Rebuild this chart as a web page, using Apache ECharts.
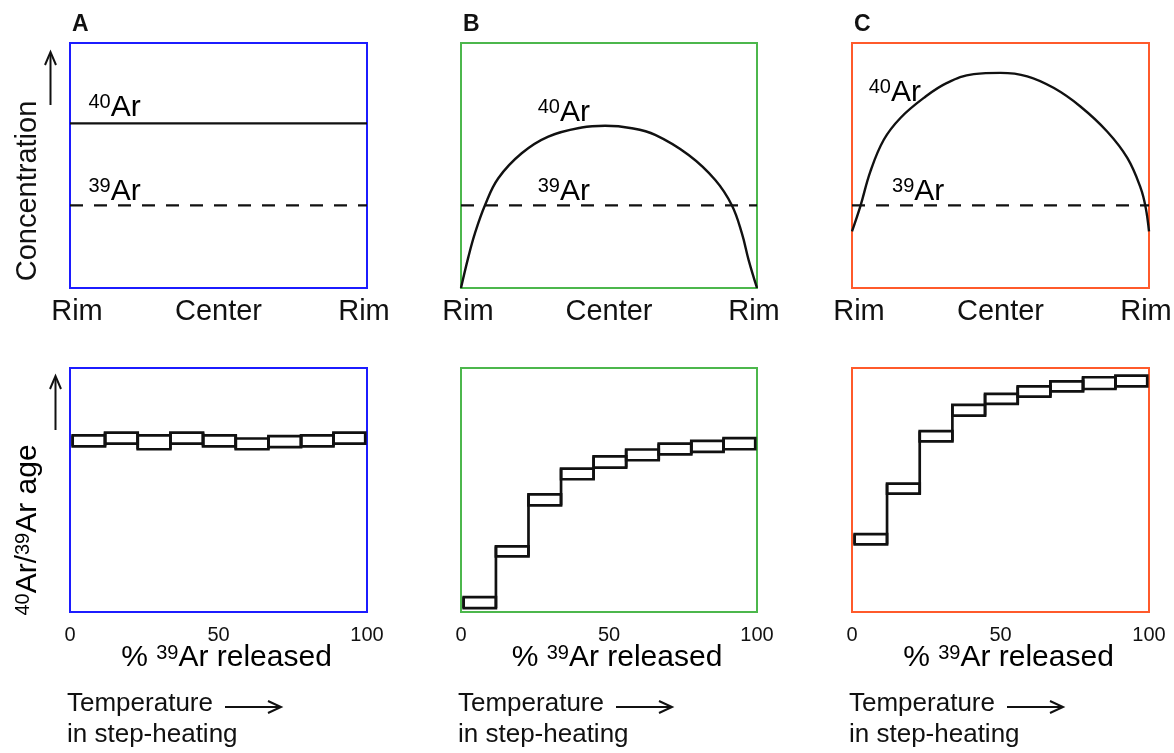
<!DOCTYPE html>
<html>
<head>
<meta charset="utf-8">
<script src="https://cdn.jsdelivr.net/npm/echarts@6/dist/echarts.min.js"></script>
<style>
  html, body { margin: 0; padding: 0; background: #ffffff; }
  #chart { width: 1174px; height: 753px; }
</style>
</head>
<body>
<div id="chart"></div>
<script>
// ---------- data ----------
// Concentration profiles across a grain (x: 0 = rim, 50 = center, 100 = rim; y: relative concentration)
const profileTicks = ['Rim', 'Center', 'Rim'];
const ar39Level = 33.7;
const ar40LevelA = 67.2;

const ar40CurveBx = [0, 2.5, 4.7, 8.1, 12.6, 20.5, 29.5, 40.8, 48.7, 57.7, 65.6, 76.9, 85.9, 91.5, 94.9, 97.2, 100];
const ar40CurveBy = [0, 12.7, 22.3, 33.8, 44.8, 55.0, 61.8, 65.5, 66.2, 65.2, 62.5, 54.3, 44.1, 33.8, 22.3, 11.3, 0];

const ar40CurveCx = [0, 2.8, 6.2, 10.7, 16.3, 24.2, 32.0, 41.0, 50.0, 59.0, 68.0, 76.9, 85.9, 92.7, 97.2, 98.9, 100];
const ar40CurveCy = [23.1, 33.3, 47.6, 60.5, 69.4, 77.6, 83.7, 87.3, 87.8, 86.4, 81.6, 74.1, 63.9, 53.1, 40.8, 32.7, 23.1];

// Step-heating age spectra (x: cumulative % 39Ar released, y: relative age, box = age +/- error)
const releasedTicks = ['0', '50', '100'];
const stepEdges = [0.9, 11.8, 22.8, 33.8, 44.8, 55.8, 66.8, 77.8, 88.7, 99.4];

const ageHiA = [72.4, 73.5, 72.4, 73.5, 72.4, 71.1, 72.1, 72.4, 73.5];
const ageLoA = [67.9, 69.0, 66.7, 69.0, 67.9, 66.7, 67.6, 67.9, 69.0];

const ageHiB = [6.1, 26.9, 48.2, 58.8, 63.8, 66.6, 69.0, 70.1, 71.3];
const ageLoB = [1.6, 22.8, 43.7, 54.4, 59.2, 62.2, 64.6, 65.6, 66.7];

const ageHiC = [31.9, 52.6, 74.1, 84.9, 89.4, 92.5, 94.5, 96.2, 96.9];
const ageLoC = [27.7, 48.5, 69.9, 80.5, 85.3, 88.3, 90.4, 91.4, 92.5];

// ---------- layout & style ----------
const FONT = '"Liberation Sans", Arial, Helvetica, sans-serif';
const INK = '#111111';
const panelColors = ['#1c1cff', '#4cb74c', '#ff5a2b'];
const panelLetters = ['A', 'B', 'C'];
const colLeft = [70, 461, 852];
const colWidth = [297, 296, 297];
const topRow = { top: 43, height: 245 };
const botRow = { top: 368, height: 244 };

const zip = (xs, ys) => xs.map((x, i) => [x, ys[i]]);
// each step: [x0, x1, lo, hi, previous lo, previous hi]
const steps = (lo, hi) => lo.map((v, i) => [
  stepEdges[i], stepEdges[i + 1], v, hi[i],
  i > 0 ? lo[i - 1] : v, i > 0 ? hi[i - 1] : hi[i]
]);

const grids = [];
const xAxes = [];
const yAxes = [];
[topRow, botRow].forEach(row => {
  for (let c = 0; c < 3; c++) {
    grids.push({
      left: colLeft[c], width: colWidth[c], top: row.top, height: row.height,
      outerBoundsMode: 'none', containLabel: false,
      show: true, borderColor: panelColors[c], borderWidth: 2, backgroundColor: 'transparent'
    });
  }
});

// rim labels sit slightly inward from the box corners
const rimText = { fontFamily: FONT, fontSize: 29, lineHeight: 29, color: INK };
const profileRich = {
  l: Object.assign({ padding: [0, 0, 0, 14] }, rimText),
  c: Object.assign({}, rimText),
  r: Object.assign({ padding: [0, 6, 0, 0] }, rimText)
};
const profileKeys = ['l', 'c', 'r'];

for (let g = 0; g < 6; g++) {
  const isTop = g < 3;
  xAxes.push({
    gridIndex: g, type: 'value', min: 0, max: 100, interval: 50,
    axisLine: { show: false }, axisTick: { show: false }, splitLine: { show: false },
    axisLabel: isTop ? {
      formatter: v => {
        const i = Math.round(v / 50);
        return '{' + profileKeys[i] + '|' + profileTicks[i] + '}';
      },
      rich: profileRich,
      fontFamily: FONT, fontSize: 29, color: INK, margin: 9, lineHeight: 29
    } : {
      formatter: v => releasedTicks[Math.round(v / 50)],
      fontFamily: FONT, fontSize: 20, color: INK, margin: 13, lineHeight: 20
    }
  });
  yAxes.push({
    gridIndex: g, type: 'value', min: 0, max: 100,
    axisLine: { show: false }, axisTick: { show: false },
    splitLine: { show: false }, axisLabel: { show: false }
  });
}

const solid = { color: INK, width: 2.4 };
const dashed = { color: INK, width: 2.2, type: [13, 11] };

function lineSeries(g, data, style, smooth) {
  return {
    type: 'line', xAxisIndex: g, yAxisIndex: g, data: data,
    showSymbol: false, symbol: 'none', smooth: smooth || false,
    lineStyle: style, silent: true, animation: false, z: 3
  };
}

// one heating step: the age box plus the riser joining it to the previous step
function renderStep(params, api) {
  const x0 = api.value(0), x1 = api.value(1);
  const lo = api.value(2), hi = api.value(3);
  const pLo = api.value(4), pHi = api.value(5);
  const a = api.coord([x0, hi]);
  const b = api.coord([x1, lo]);
  const r0 = api.coord([x0, Math.min(lo, pLo)]);
  const r1 = api.coord([x0, Math.max(hi, pHi)]);
  return {
    type: 'group',
    children: [
      { type: 'rect', shape: { x: a[0], y: a[1], width: b[0] - a[0], height: b[1] - a[1] },
        style: { fill: 'transparent', stroke: INK, lineWidth: 2.7 } },
      { type: 'line', shape: { x1: r0[0], y1: r0[1], x2: r1[0], y2: r1[1] },
        style: { stroke: INK, lineWidth: 2.7, fill: null } }
    ]
  };
}
function stepSeries(g, data) {
  return {
    type: 'custom', xAxisIndex: g, yAxisIndex: g, data: data,
    renderItem: renderStep, encode: { x: [0, 1], y: [2, 3] },
    silent: true, animation: false, z: 3
  };
}

const series = [
  lineSeries(0, [[0, ar40LevelA], [100, ar40LevelA]], solid),
  lineSeries(0, [[0, ar39Level], [100, ar39Level]], dashed),
  lineSeries(1, zip(ar40CurveBx, ar40CurveBy), solid, 0.4),
  lineSeries(1, [[0, ar39Level], [100, ar39Level]], dashed),
  lineSeries(2, zip(ar40CurveCx, ar40CurveCy), solid, 0.4),
  lineSeries(2, [[0, ar39Level], [100, ar39Level]], dashed),
  stepSeries(3, steps(ageLoA, ageHiA)),
  stepSeries(4, steps(ageLoB, ageHiB)),
  stepSeries(5, steps(ageLoC, ageHiC))
];

const chart = echarts.init(document.getElementById('chart'), null, { renderer: 'canvas' });
chart.setOption({
  backgroundColor: '#ffffff',
  animation: false,
  grid: grids, xAxis: xAxes, yAxis: yAxes, series: series
});

// ---------- annotations ----------
const isoRich = {
  m: { fontFamily: FONT, fontSize: 30, lineHeight: 30, color: INK },
  s: { fontFamily: FONT, fontSize: 20, lineHeight: 18, color: INK, verticalAlign: 'top' }
};
// isotope labels: [gridIndex, x, y (baseline), text]
const isoLabels = [
  [0, 6.2, 69.3, '{s|40}{m|Ar}'],
  [0, 6.2, 35.2, '{s|39}{m|Ar}'],
  [1, 25.9, 67.2, '{s|40}{m|Ar}'],
  [1, 25.9, 35.2, '{s|39}{m|Ar}'],
  [2, 5.6, 75.4, '{s|40}{m|Ar}'],
  [2, 13.5, 35.2, '{s|39}{m|Ar}']
];

function arrow(points, head) {
  return [
    { type: 'polyline', shape: { points: points }, style: { stroke: INK, lineWidth: 2, fill: null }, silent: true },
    { type: 'polyline', shape: { points: head }, style: { stroke: INK, lineWidth: 2, fill: null }, silent: true }
  ];
}

const graphics = [];
isoLabels.forEach(([g, x, y, txt]) => {
  const p = chart.convertToPixel({ gridIndex: g }, [x, y]);
  graphics.push({
    type: 'text', x: p[0], y: p[1] + 4.6, silent: true,
    style: { text: txt, rich: isoRich, align: 'left', verticalAlign: 'bottom' }
  });
});

for (let c = 0; c < 3; c++) {
  const L = colLeft[c];
  const W = colWidth[c];
  // panel letter
  graphics.push({
    type: 'text', x: L + 2, y: 25, silent: true,
    style: { text: panelLetters[c], fontFamily: FONT, fontSize: 23, fontWeight: 'bold', fill: INK, verticalAlign: 'middle' }
  });
  // x-axis title of the age spectrum
  graphics.push({
    type: 'text', x: L + W / 2 + 8, y: 658, silent: true,
    style: {
      text: '{m|% }{s|39}{m|Ar released}', align: 'center', verticalAlign: 'middle',
      rich: isoRich
    }
  });
  // heating note
  graphics.push({
    type: 'text', x: L - 3, y: 704, silent: true,
    style: { text: 'Temperature', fontFamily: FONT, fontSize: 26, fill: INK, verticalAlign: 'middle' }
  });
  graphics.push({
    type: 'text', x: L - 3, y: 735, silent: true,
    style: { text: 'in step-heating', fontFamily: FONT, fontSize: 26, fill: INK, verticalAlign: 'middle' }
  });
  const ax = L - 3 + 158, bx = L - 3 + 214, ay = 707;
  graphics.push(...arrow([[ax, ay], [bx, ay]], [[bx - 13, ay - 6], [bx, ay], [bx - 13, ay + 6]]));
}

// y-axis titles
graphics.push({
  type: 'text', x: 28, y: 191, rotation: Math.PI / 2, silent: true,
  style: { text: 'Concentration', fontFamily: FONT, fontSize: 29, fill: INK, align: 'center', verticalAlign: 'middle' }
});
graphics.push(...arrow([[50.5, 105], [50.5, 53]], [[45, 65], [50.5, 52], [56, 65]]));
graphics.push({
  type: 'text', x: 28, y: 530, rotation: Math.PI / 2, silent: true,
  style: {
    text: '{s|40}{m|Ar/}{s|39}{m|Ar age}', align: 'center', verticalAlign: 'middle',
    rich: isoRich
  }
});
graphics.push(...arrow([[55.5, 430], [55.5, 377]], [[50, 389], [55.5, 376], [61, 389]]));

chart.setOption({ graphic: graphics.map(g => Object.assign({ z: 10 }, g)) });
</script>
</body>
</html>
